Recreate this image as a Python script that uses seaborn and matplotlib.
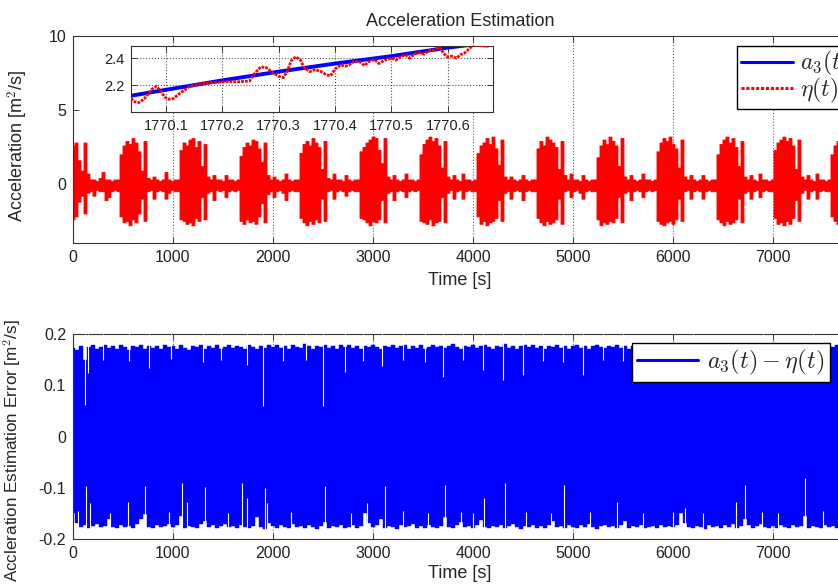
import numpy as np
import matplotlib
matplotlib.use("Agg")
import matplotlib.pyplot as plt
from matplotlib.lines import Line2D
import seaborn as sns

# ---- data ----
# top panel: envelope of eta(t), one value per 30 s sample
ACC_STEP = 30
acc_hi = [
    2.6, 2.8, 1.6, 0.9, 2.8, 0.7, 0.3, 0.3, 0.2, 0.4, 0.8, 0.3, 0.3, 0.2, 0.3, 0.3,
    2.0, 2.6, 2.9, 2.7, 3.1, 2.8, 2.2, 0.9, 2.9, 0.4, 0.3, 0.5, 0.3, 0.2, 0.3, 0.8, 0.3, 0.2, 0.3, 0.3,
    2.3, 2.8, 2.6, 3.0, 3.1, 2.5, 2.9, 1.2, 2.7, 0.5, 0.3, 0.6, 0.3, 0.3, 0.2, 0.6, 0.3, 0.3, 0.2, 0.3,
    1.9, 2.5, 2.8, 2.6, 3.0, 2.9, 2.4, 1.5, 2.8, 0.6, 0.3, 0.5, 0.3, 0.2, 0.3, 0.7, 0.3, 0.2, 0.3, 0.3,
    2.1, 2.7, 2.9, 2.6, 3.1, 2.8, 2.5, 1.0, 2.9, 0.4, 0.3, 0.7, 0.3, 0.3, 0.2, 0.6, 0.3, 0.2, 0.3, 0.3,
    2.2, 2.5, 2.8, 3.0, 3.2, 3.1, 2.3, 1.4, 3.1, 0.5, 0.3, 0.6, 0.3, 0.2, 0.3, 0.7, 0.3, 0.3, 0.2, 0.3,
    2.0, 2.7, 3.0, 3.2, 2.9, 3.1, 2.6, 1.1, 2.9, 0.5, 0.3, 0.6, 0.3, 0.2, 0.7, 0.3, 0.3, 0.2, 0.3,
    2.1, 2.6, 2.8, 3.1, 2.7, 3.2, 2.4, 1.3, 3.0, 0.5, 0.3, 0.5, 0.3, 0.2, 0.3, 0.6, 0.3, 0.2, 0.3, 0.3,
    2.4, 2.9, 2.6, 3.2, 3.0, 2.8, 2.5, 1.0, 2.9, 0.6, 0.3, 0.7, 0.3, 0.3, 0.2, 0.6, 0.3, 0.2, 0.3, 0.3,
    1.8, 2.6, 3.0, 2.7, 3.2, 2.9, 2.6, 1.2, 3.1, 0.5, 0.3, 0.6, 0.3, 0.2, 0.3, 0.7, 0.3, 0.3, 0.2, 0.3,
    2.2, 2.8, 3.1, 2.9, 3.2, 2.7, 2.4, 1.1, 3.0, 0.5, 0.3, 0.6, 0.3, 0.2, 0.3, 0.6, 0.3, 0.2, 0.3, 0.3,
    2.0, 2.7, 3.0, 3.2, 2.8, 3.1, 2.5, 1.2, 2.9, 0.5, 0.3, 0.6, 0.3, 0.2, 0.7, 0.3, 0.3, 0.2, 0.3,
    2.3, 2.8, 3.0, 3.2, 2.9, 3.1, 2.6, 1.0, 3.0, 0.5, 0.3, 0.6, 0.3, 0.2, 0.7, 0.3, 0.3, 0.2, 0.3,
    2.0, 2.6, 2.9, 3.0, 2.7, 3.2,
]
acc_lo = [
    -2.4, -2.2, -1.2, -0.8, -2.0, -0.6, -0.5, -0.8, -0.4, -0.5, -0.5, -1.1, -0.9, -0.5, -0.4, -0.5,
    -2.2, -2.6, -2.5, -2.8, -2.4, -2.6, -2.0, -1.0, -2.5, -0.5, -0.4, -1.0, -0.5, -0.4, -0.5, -1.0, -0.6, -0.4, -0.5, -0.5,
    -2.4, -2.5, -2.7, -2.6, -2.8, -2.3, -2.5, -0.9, -2.4, -0.6, -0.5, -1.1, -0.4, -0.5, -0.4, -0.9, -0.5, -0.4, -0.5, -0.4,
    -2.5, -2.7, -2.4, -2.6, -2.5, -2.7, -2.2, -1.3, -2.6, -0.7, -0.5, -0.9, -0.5, -0.4, -0.6, -1.1, -0.5, -0.4, -0.5, -0.5,
    -2.3, -2.6, -2.8, -2.5, -2.7, -2.4, -2.6, -1.0, -2.5, -0.5, -0.4, -1.0, -0.5, -0.4, -0.5, -0.8, -0.5, -0.4, -0.5, -0.5,
    -2.3, -2.4, -2.6, -2.8, -2.5, -2.6, -2.4, -1.1, -2.6, -0.6, -0.5, -1.1, -0.5, -0.4, -0.5, -0.9, -0.5, -0.4, -0.5, -0.4,
    -2.5, -2.6, -2.7, -2.4, -2.8, -2.6, -2.5, -0.9, -2.6, -0.6, -0.4, -1.0, -0.5, -0.4, -1.0, -0.5, -0.4, -0.5, -0.5,
    -2.2, -2.7, -2.5, -2.8, -2.6, -2.5, -2.3, -1.1, -2.5, -0.6, -0.5, -1.0, -0.5, -0.4, -0.5, -1.1, -0.5, -0.4, -0.5, -0.5,
    -2.3, -2.6, -2.8, -2.5, -2.7, -2.6, -2.4, -1.0, -2.7, -0.5, -0.4, -0.9, -0.5, -0.4, -0.6, -1.0, -0.5, -0.4, -0.5, -0.5,
    -2.4, -2.8, -2.6, -2.7, -2.5, -2.6, -2.3, -0.9, -2.6, -0.6, -0.5, -1.1, -0.5, -0.4, -0.5, -0.9, -0.5, -0.4, -0.5, -0.4,
    -2.5, -2.7, -2.8, -2.6, -2.5, -2.7, -2.4, -1.0, -2.5, -0.5, -0.4, -1.0, -0.5, -0.4, -0.5, -1.0, -0.5, -0.4, -0.5, -0.5,
    -2.4, -2.6, -2.8, -2.5, -2.7, -2.6, -2.4, -1.0, -2.6, -0.6, -0.5, -1.0, -0.5, -0.4, -0.9, -0.5, -0.4, -0.5, -0.5,
    -2.3, -2.7, -2.6, -2.8, -2.5, -2.7, -2.3, -1.1, -2.5, -0.6, -0.4, -1.0, -0.5, -0.4, -1.0, -0.5, -0.4, -0.5, -0.5,
    -2.2, -2.5, -2.7, -2.6, -2.8, -2.5,
]

# inset: zoom around t = 1770 s
inset_t_a3 = [1770.03, 1770.1, 1770.2, 1770.3, 1770.4, 1770.5, 1770.6, 1770.68]
inset_a3 = [2.115, 2.165, 2.235, 2.30, 2.36, 2.415, 2.478, 2.52]
inset_t_eta = [
    1770.038, 1770.045, 1770.052, 1770.062, 1770.075, 1770.083, 1770.09, 1770.098,
    1770.105, 1770.113, 1770.125, 1770.14, 1770.155, 1770.17, 1770.19, 1770.21,
    1770.23, 1770.248, 1770.258, 1770.268, 1770.278, 1770.29, 1770.30, 1770.308,
    1770.315, 1770.322, 1770.33, 1770.338, 1770.345, 1770.355, 1770.365, 1770.375,
    1770.385, 1770.392, 1770.40, 1770.41, 1770.418, 1770.425, 1770.435, 1770.445,
    1770.452, 1770.46, 1770.47, 1770.478, 1770.488, 1770.50, 1770.508, 1770.515,
    1770.525, 1770.532, 1770.54, 1770.55, 1770.558, 1770.565, 1770.575, 1770.585,
    1770.592, 1770.598, 1770.608, 1770.615, 1770.622, 1770.63, 1770.638, 1770.645,
    1770.665, 1770.672,
]
inset_eta = [
    2.10, 2.075, 2.07, 2.10, 2.17, 2.19, 2.16, 2.11,
    2.095, 2.10, 2.14, 2.185, 2.205, 2.215, 2.22, 2.225,
    2.225, 2.23, 2.29, 2.335, 2.33, 2.29, 2.265, 2.255,
    2.30, 2.38, 2.41, 2.39, 2.33, 2.30, 2.315, 2.30,
    2.275, 2.27, 2.32, 2.35, 2.34, 2.35, 2.38, 2.37,
    2.345, 2.375, 2.39, 2.36, 2.385, 2.40, 2.385, 2.41,
    2.425, 2.40, 2.43, 2.44, 2.43, 2.455, 2.46, 2.48,
    2.44, 2.41, 2.415, 2.40, 2.425, 2.44, 2.47, 2.50,
    2.49, 2.485,
]

# bottom panel: envelope of a3 - eta, one value per 40 s sample
ERR_STEP = 40
err_hi = [
    0.172, 0.168, 0.176, 0.150, 0.175, 0.178, 0.170, 0.174, 0.179, 0.172, 0.176, 0.170, 0.178, 0.174, 0.168, 0.177, 0.175, 0.179, 0.170, 0.176, 0.172, 0.177, 0.170, 0.178, 0.174,
    0.176, 0.170, 0.178, 0.173, 0.168, 0.177, 0.174, 0.179, 0.171, 0.176, 0.173, 0.178, 0.170, 0.175, 0.179, 0.172, 0.177, 0.174, 0.171, 0.178, 0.175, 0.170, 0.176, 0.173, 0.178,
    0.174, 0.179, 0.172, 0.176, 0.170, 0.178, 0.175, 0.172, 0.180, 0.176, 0.171, 0.177, 0.174, 0.179, 0.172, 0.176, 0.170, 0.178, 0.175, 0.179, 0.173, 0.177, 0.171, 0.176, 0.174,
    0.179, 0.175, 0.170, 0.177, 0.174, 0.178, 0.172, 0.176, 0.179, 0.171, 0.176, 0.173, 0.178, 0.170, 0.175, 0.179, 0.174, 0.177, 0.172, 0.176, 0.180, 0.175, 0.171, 0.177, 0.174,
    0.178, 0.172, 0.176, 0.179, 0.174, 0.170, 0.177, 0.175, 0.180, 0.173, 0.177, 0.171, 0.176, 0.179, 0.174, 0.178, 0.172, 0.176, 0.170, 0.177, 0.175, 0.179, 0.173, 0.176, 0.171,
    0.176, 0.179, 0.173, 0.177, 0.171, 0.176, 0.178, 0.174, 0.172, 0.177, 0.175, 0.179, 0.173, 0.176, 0.170, 0.177, 0.174, 0.178, 0.172, 0.176, 0.179, 0.175, 0.171, 0.177, 0.174,
    0.177, 0.173, 0.179, 0.175, 0.171, 0.178, 0.174, 0.176, 0.180, 0.172, 0.177, 0.175, 0.179, 0.173, 0.176, 0.171, 0.178, 0.174, 0.177, 0.172, 0.179, 0.175, 0.170, 0.176, 0.178,
    0.174, 0.178, 0.172, 0.176, 0.179, 0.173, 0.177, 0.175, 0.171, 0.178, 0.174, 0.176, 0.179, 0.172, 0.177, 0.175, 0.178, 0.173, 0.176, 0.174,
]
err_lo = [
    -0.150, -0.168, -0.176, -0.172, -0.178, -0.174, -0.170, -0.177, -0.175, -0.160, -0.176, -0.179, -0.172, -0.177, -0.174, -0.178, -0.171, -0.160, -0.152, -0.176, -0.179, -0.172, -0.177, -0.174, -0.170,
    -0.176, -0.172, -0.155, -0.178, -0.174, -0.176, -0.179, -0.170, -0.165, -0.176, -0.173, -0.178, -0.175, -0.171, -0.177, -0.174, -0.179, -0.172, -0.176, -0.178, -0.174, -0.158, -0.176, -0.180, -0.168,
    -0.174, -0.178, -0.172, -0.176, -0.179, -0.170, -0.177, -0.174, -0.178, -0.172, -0.176, -0.180, -0.175, -0.166, -0.178, -0.174, -0.177, -0.172, -0.179, -0.176, -0.172, -0.178, -0.174, -0.150, -0.168,
    -0.176, -0.172, -0.160, -0.178, -0.174, -0.176, -0.180, -0.172, -0.177, -0.174, -0.170, -0.178, -0.175, -0.179, -0.172, -0.176, -0.178, -0.174, -0.158, -0.176, -0.179, -0.172, -0.166, -0.177, -0.174,
    -0.178, -0.172, -0.162, -0.176, -0.179, -0.174, -0.177, -0.172, -0.178, -0.175, -0.171, -0.177, -0.180, -0.174, -0.176, -0.172, -0.178, -0.175, -0.179, -0.172, -0.165, -0.177, -0.174, -0.178, -0.172,
    -0.176, -0.179, -0.173, -0.177, -0.171, -0.176, -0.180, -0.174, -0.172, -0.177, -0.175, -0.179, -0.173, -0.164, -0.178, -0.174, -0.177, -0.172, -0.179, -0.176, -0.174, -0.178, -0.172, -0.176, -0.174,
    -0.177, -0.173, -0.150, -0.168, -0.176, -0.178, -0.174, -0.176, -0.180, -0.172, -0.177, -0.175, -0.179, -0.173, -0.176, -0.171, -0.178, -0.174, -0.160, -0.172, -0.179, -0.175, -0.170, -0.176, -0.178,
    -0.174, -0.178, -0.172, -0.176, -0.179, -0.173, -0.177, -0.175, -0.155, -0.178, -0.174, -0.176, -0.179, -0.172, -0.177, -0.175, -0.178, -0.173, -0.176, -0.174,
]
# narrow drop-outs of the error envelope (time [s], value reached)
spike_hi_t = [120, 150, 300, 560, 760, 980, 1300, 1480, 1740, 1900,
              2100, 2330, 2500, 2720, 2900, 3090, 3300, 3520, 3700, 3900,
              4100, 4300, 4500, 4700, 4900, 5100, 5300, 5500, 6200, 6900, 7400]
spike_hi_v = [0.061, 0.124, 0.150, 0.148, 0.134, 0.152, 0.146, 0.150, 0.140, 0.060,
              0.148, 0.150, 0.060, 0.125, 0.148, 0.137, 0.150, 0.146, 0.116, 0.150,
              0.130, 0.110, 0.120, 0.148, 0.145, 0.120, 0.150, 0.147, 0.150, 0.148, 0.146]
spike_lo_t = [50, 128, 167, 370, 551, 724, 960, 1093, 1142, 1325,
              1550, 1694, 1743, 1916, 1940, 2180, 2522, 2780, 2940, 3123,
              3300, 3550, 3724, 3880, 4000, 4108, 4320, 4530, 4780, 4911,
              5170, 5438, 5700, 6000, 6118, 6300, 6635, 6719, 6890, 7050,
              7325, 7500]
spike_lo_v = [-0.145, -0.097, -0.130, -0.150, -0.128, -0.097, -0.148, -0.090, -0.127, -0.098,
              -0.150, -0.090, -0.120, -0.100, -0.130, -0.148, -0.097, -0.150, -0.130, -0.097,
              -0.145, -0.150, -0.095, -0.148, -0.150, -0.120, -0.090, -0.148, -0.150, -0.095,
              -0.148, -0.127, -0.150, -0.148, -0.140, -0.150, -0.128, -0.095, -0.148, -0.150,
              -0.080, -0.145]

time_ticks = [0, 1000, 2000, 3000, 4000, 5000, 6000, 7000]
T_MAX = 7740

BLUE = "#0000ff"
RED = "#ff0000"
FONT = ["Liberation Sans", "DejaVu Sans"]
LABEL_SIZE = 13

sns.set_style("ticks")
plt.rcParams["font.family"] = FONT
plt.rcParams["mathtext.fontset"] = "cm"
plt.rcParams["axes.unicode_minus"] = False


def style_axes(ax, size=11):
    ax.tick_params(direction="in", top=True, right=True, length=4, width=0.6,
                   labelsize=size, colors="#222222", pad=5)
    for s in ax.spines.values():
        s.set_linewidth(0.8)
        s.set_color("#333333")
    ax.set_axisbelow(True)


fig = plt.figure(figsize=(8.38, 5.88), dpi=100)
ax1 = fig.add_axes([0.0871, 0.5867, 0.9236, 0.3520])
ax2 = fig.add_axes([0.0871, 0.0833, 0.9236, 0.3486])
ax_in = fig.add_axes([0.1563, 0.8095, 0.4320, 0.1122])

# --- top: acceleration estimate ---
t_acc = ACC_STEP * np.arange(len(acc_hi))
ax1.fill_between(t_acc, acc_lo, acc_hi, step="mid", color=RED, lw=0.6, edgecolor=RED)
ax1.set_xlim(0, T_MAX)
ax1.set_ylim(-4, 10)
ax1.set_xticks(time_ticks)
ax1.set_yticks([0, 5, 10])
ax1.xaxis.grid(True, ls=":", lw=0.8, color="#666666")
ax1.yaxis.grid(False)
style_axes(ax1, size=11.5)
ax1.set_title("Acceleration Estimation", fontsize=LABEL_SIZE, pad=7)
ax1.set_xlabel("Time [s]", fontsize=LABEL_SIZE, labelpad=5)
ax1.set_ylabel("Acceleration [m$^2$/s]", fontsize=LABEL_SIZE)
ax1.yaxis.set_label_coords(-0.056, 0.47)

handles = [Line2D([], [], color=BLUE, lw=2.2),
           Line2D([], [], color=RED, lw=2.2, ls=(0, (1, 0.6)))]
ax1.legend(handles, [r"$a_3(t)$", r"$\eta(t)$"], loc="upper left",
           bbox_to_anchor=(0.8795, 0.9223), bbox_transform=fig.transFigure,
           borderaxespad=0, fontsize=17, frameon=True, fancybox=False,
           edgecolor="black", framealpha=1, handlelength=2.2, handletextpad=0.3,
           borderpad=0.15, labelspacing=-0.1)

# --- inset ---
sns.lineplot(x=inset_t_a3, y=inset_a3, ax=ax_in, color=BLUE, lw=2.8, zorder=2)
sns.lineplot(x=inset_t_eta, y=inset_eta, ax=ax_in, color=RED, lw=2.0,
             ls=(0, (1, 0.4)), zorder=3)
ax_in.set_xlim(1770.038, 1770.68)
ax_in.set_ylim(2.0, 2.49)
ax_in.set_xticks([1770.1, 1770.2, 1770.3, 1770.4, 1770.5, 1770.6])
ax_in.set_xticklabels(["1770.1", "1770.2", "1770.3", "1770.4", "1770.5", "1770.6"])
ax_in.set_yticks([2.2, 2.4])
ax_in.grid(True, ls=":", lw=0.8, color="#555555")
style_axes(ax_in, size=10.5)
ax_in.set_facecolor("white")

# --- bottom: estimation error ---
t_err = ERR_STEP * np.arange(len(err_hi))
ax2.fill_between(t_err, err_lo, err_hi, step="mid", color=BLUE, lw=0.3, edgecolor=BLUE)
ax2.vlines(spike_hi_t, spike_hi_v, 0.2, color="white", lw=0.8, zorder=3)
ax2.vlines(spike_lo_t, -0.2, spike_lo_v, color="white", lw=0.8, zorder=3)
ax2.set_xlim(0, T_MAX)
ax2.set_ylim(-0.2, 0.2)
ax2.set_xticks(time_ticks)
ax2.set_yticks([-0.2, -0.1, 0, 0.1, 0.2])
ax2.set_yticklabels(["-0.2", "-0.1", "0", "0.1", "0.2"])
ax2.xaxis.grid(True, ls=":", lw=0.8, color="#666666")
ax2.yaxis.grid(False)
style_axes(ax2, size=11.5)
ax2.set_xlabel("Time [s]", fontsize=LABEL_SIZE, labelpad=3)
ax2.set_ylabel("Accleration Estimation Error [m$^2$/s]", fontsize=12.3)
ax2.yaxis.set_label_coords(-0.064, 0.43)

ax2.legend([Line2D([], [], color=BLUE, lw=2.2)], [r"$a_3(t) - \eta(t)$"],
           loc="upper left", bbox_to_anchor=(0.7542, 0.4167),
           bbox_transform=fig.transFigure, borderaxespad=0, fontsize=17.5,
           frameon=True, fancybox=False, edgecolor="black", framealpha=1,
           handlelength=2.5, handletextpad=0.4, borderpad=0.2)

fig.savefig("out.png", dpi=100)
